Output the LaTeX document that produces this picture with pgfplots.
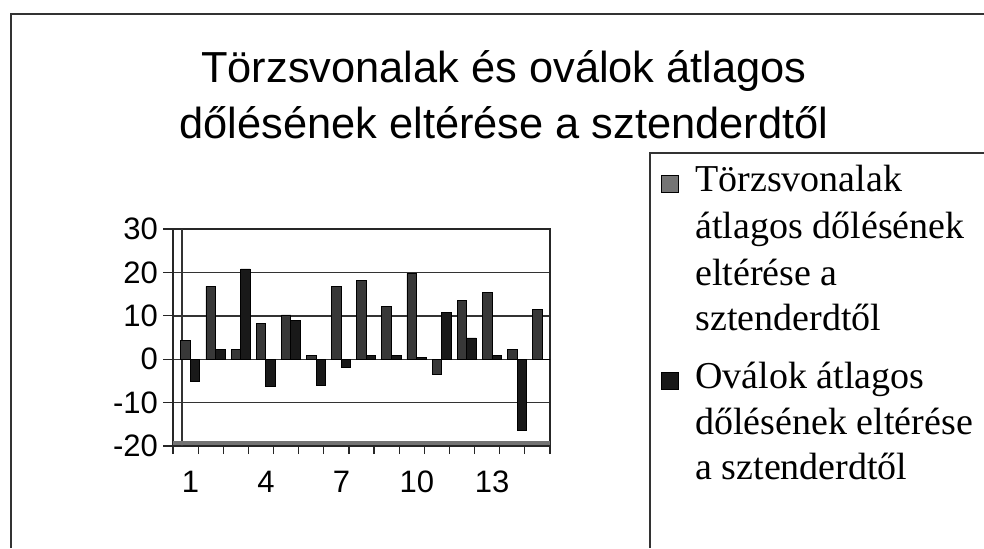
\documentclass[border=0pt]{standalone}
\usepackage{fontspec}
\setmainfont{Liberation Sans}
\newfontfamily\legendfont{Liberation Serif}
\usepackage{pgfplots}
\pgfplotsset{compat=1.18}
\definecolor{serA}{gray}{0.22}
\definecolor{serB}{gray}{0.10}
\pgfplotstableread{
x A B
1 4.4 -5.0
2 16.8 2.3
3 2.3 20.8
4 8.3 -6.2
5 10.2 8.9
6 0.9 -6.0
7 16.8 -2.0
8 18.1 0.8
9 12.1 0.8
10 19.8 0.4
11 -3.4 10.8
12 13.5 4.9
13 15.4 0.8
14 2.3 -16.5
15 11.4 0.0
}\datatable
\begin{document}
\begin{tikzpicture}
\path[use as bounding box] (0pt,0pt) rectangle (492pt,274pt);
\draw[black!80, line width=0.75pt] (5.5pt,0pt) -- (5.5pt,267pt) -- (492pt,267pt);
\draw[black!80, line width=0.75pt] (325pt,0pt) -- (325pt,197.5pt) -- (492pt,197.5pt);
\node[anchor=base, inner sep=0pt, font=\fontsize{21.7}{26}\selectfont] at (252pt,233pt) {Törzsvonalak és oválok átlagos};
\node[anchor=base, inner sep=0pt, font=\fontsize{21.7}{26}\selectfont] at (252pt,205pt) {dőlésének eltérése a sztenderdtől};
\begin{axis}[
  at={(86.5pt,51pt)}, anchor=south west,
  scale only axis, width=188.5pt, height=108.5pt,
  xmin=0.5, xmax=15.5, ymin=-20, ymax=30,
  ybar, bar width=0.38,
  xtick={1,4,7,10,13}, xticklabels={1,4,7,10,13},
  minor xtick={0.5,1.5,...,15.5},
  ytick={-20,-10,0,10,20,30}, yticklabels={-20,-10,0,10,20,30},
  tick pos=left, tick align=outside,
  major tick length=5pt, minor tick length=4pt,
  major x tick style={draw=none},
  minor x tick style={black!85, line width=0.6pt},
  major y tick style={black!85, line width=0.6pt},
  ymajorgrids, major grid style={black!80, line width=0.7pt},
  axis line style={black!85, line width=0.8pt},
  tick label style={font=\fontsize{15.5}{19}\selectfont},
  xticklabel style={yshift=-4pt, xshift=2.5pt},
  yticklabel style={xshift=1pt},
]
\draw[black!80, line width=0.7pt] (rel axis cs:0.024,0) -- (rel axis cs:0.024,1);
\draw[black!55, line width=2.4pt] (rel axis cs:0,0.0135) -- (rel axis cs:1,0.0135);
\addplot[fill=serA, draw=black, line width=0.4pt, bar shift=0] table[x=x, y=A] {\datatable};
\addplot[fill=serB, draw=black, line width=0.4pt, bar shift=0.38] table[x=x, y=B] {\datatable};
\end{axis}
\draw[fill=serA!70, draw=black, line width=0.4pt] (330.5pt,178pt) rectangle (339pt,186.5pt);
\draw[fill=serB, draw=black, line width=0.4pt] (330.5pt,79.5pt) rectangle (339pt,88pt);
\begin{scope}[every node/.style={anchor=base west, inner sep=0pt, font=\legendfont\fontsize{19}{23}\selectfont}]
\node at (347.5pt,178.5pt) {Törzsvonalak};
\node at (347.5pt,155pt) {átlagos dőlésének};
\node at (347.5pt,131.5pt) {eltérése a};
\node at (347.5pt,109pt) {sztenderdtől};
\node at (347.5pt,80pt) {Oválok átlagos};
\node at (347.5pt,57pt) {dőlésének eltérése};
\node at (347.5pt,34.5pt) {a sztenderdtől};
\end{scope}
\end{tikzpicture}
\end{document}
